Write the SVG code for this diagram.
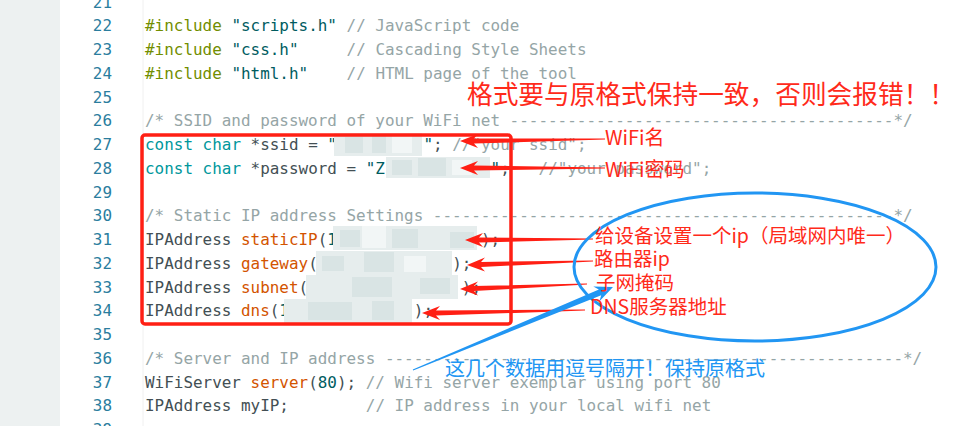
<svg xmlns="http://www.w3.org/2000/svg" width="976" height="426" viewBox="0 0 976 426">
<style>
.code{font-family:"DejaVu Sans Mono","Liberation Mono",monospace;font-size:15.95px;fill:#434f54;white-space:pre}
.ln{font-family:"DejaVu Sans Mono","Liberation Mono",monospace;font-size:15.95px;fill:#2a7d9e;text-anchor:end}
.cm{fill:#95a5a6}
.pp{fill:#728e00}
.st{fill:#005c5f}
.kw{fill:#00979c}
.fn{fill:#d35400}
.rt{font-family:"Noto Sans CJK SC","Noto Sans",sans-serif;fill:#ff2a1a}
.bt{font-family:"Noto Sans CJK SC","Noto Sans",sans-serif;fill:#2196f3;font-size:20px}
.ra{fill:#ff1f14}
.blur1{fill:#d9e4e4}
.blur2{fill:#e6eded}
.blur3{fill:#f2f6f6}
</style>
<rect x="0" y="0" width="976" height="426" fill="#ffffff"/>
<rect x="0" y="0" width="60" height="426" fill="#edf1f1"/>
<line x1="143" y1="0" x2="143" y2="426" stroke="#f0f0f0" stroke-width="1"/>

<g id="line-numbers">
<text class="ln" x="112" y="7.5">21</text>
<text class="ln" x="112" y="31.3">22</text>
<text class="ln" x="112" y="55.05">23</text>
<text class="ln" x="112" y="78.8">24</text>
<text class="ln" x="112" y="102.55">25</text>
<text class="ln" x="112" y="126.3">26</text>
<text class="ln" x="112" y="150.05">27</text>
<text class="ln" x="112" y="173.8">28</text>
<text class="ln" x="112" y="197.55">29</text>
<text class="ln" x="112" y="221.3">30</text>
<text class="ln" x="112" y="245.05">31</text>
<text class="ln" x="112" y="268.8">32</text>
<text class="ln" x="112" y="292.55">33</text>
<text class="ln" x="112" y="316.3">34</text>
<text class="ln" x="112" y="340.05">35</text>
<text class="ln" x="112" y="363.8">36</text>
<text class="ln" x="112" y="387.55">37</text>
<text class="ln" x="112" y="411.3">38</text>
<text class="ln" x="112" y="435.05">39</text>
</g>

<g id="code">
<text class="code" x="145" y="31.3"><tspan class="pp">#include</tspan> <tspan class="st">"scripts.h"</tspan> <tspan class="cm">// JavaScript code</tspan></text>
<text class="code" x="145" y="55.05"><tspan class="pp">#include</tspan> <tspan class="st">"css.h"</tspan><tspan class="cm" x="346.6">// Cascading Style Sheets</tspan></text>
<text class="code" x="145" y="78.8"><tspan class="pp">#include</tspan> <tspan class="st">"html.h"</tspan><tspan class="cm" x="346.6">// HTML page of the tool</tspan></text>
<text class="code cm" x="145" y="126.3">/* SSID and password of your WiFi net ----------------------------------------*/</text>
<text class="code" x="145" y="150.05"><tspan class="kw">const</tspan> <tspan class="kw">char</tspan> *ssid = <tspan class="st">"</tspan></text>
<text class="code" x="423.4" y="150.05"><tspan class="st">"</tspan>; <tspan class="cm">//"your ssid";</tspan></text>
<text class="code" x="145" y="173.8"><tspan class="kw">const</tspan> <tspan class="kw">char</tspan> *password = <tspan class="st">"Z</tspan></text>
<text class="code" x="490.6" y="173.8"><tspan class="st">"</tspan>;<tspan class="cm" x="538.6">//"your password";</tspan></text>
<text class="code cm" x="145" y="221.3">/* Static IP address Settings ------------------------------------------------*/</text>
<text class="code" x="145" y="245.05">IPAddress <tspan class="fn">staticIP</tspan>(<tspan class="st">1</tspan></text>
<text class="code" x="481" y="245.05">);</text>
<text class="code" x="145" y="268.8">IPAddress <tspan class="fn">gateway</tspan>(</text>
<text class="code" x="452.2" y="268.8">);</text>
<text class="code" x="145" y="292.55">IPAddress <tspan class="fn">subnet</tspan>(</text>
<text class="code" x="461.8" y="292.55">);</text>
<text class="code" x="145" y="316.3">IPAddress <tspan class="fn">dns</tspan>(<tspan class="st">1</tspan></text>
<text class="code" x="413.8" y="316.3">);</text>
<text class="code cm" x="145" y="363.8">/* Server and IP address ------------------------------------------------------*/</text>
<text class="code" x="145" y="387.55">WiFiServer <tspan class="fn">server</tspan>(<tspan class="st">80</tspan>); <tspan class="cm">// Wifi server exemplar using port 80</tspan></text>
<text class="code" x="145" y="411.3">IPAddress myIP;<tspan class="cm" x="365.8">// IP address in your local wifi net</tspan></text>
</g>

<g id="redactions">
<rect class="blur2" x="334" y="133" width="88" height="23"/>
<rect class="blur1" x="345" y="137" width="18" height="16"/>
<rect class="blur1" x="372" y="135" width="14" height="18"/>
<rect class="blur3" x="392" y="136" width="20" height="17"/>
<rect class="blur2" x="386" y="157" width="104" height="21"/>
<rect class="blur1" x="392" y="160" width="20" height="15"/>
<rect class="blur1" x="418" y="158" width="28" height="18"/>
<rect class="blur3" x="452" y="160" width="20" height="15"/>
<rect class="blur2" x="333" y="226" width="144" height="24"/>
<rect class="blur1" x="340" y="230" width="20" height="17"/>
<rect class="blur3" x="362" y="226" width="24" height="22"/>
<rect class="blur1" x="392" y="229" width="26" height="19"/>
<rect class="blur1" x="450" y="232" width="24" height="16"/>
<rect class="blur2" x="316" y="251" width="136" height="24"/>
<rect class="blur1" x="322" y="256" width="22" height="15"/>
<rect class="blur1" x="364" y="252" width="30" height="20"/>
<rect class="blur3" x="404" y="256" width="22" height="16"/>
<rect class="blur2" x="306" y="275" width="152" height="24"/>
<rect class="blur1" x="352" y="277" width="40" height="20"/>
<rect class="blur1" x="420" y="278" width="30" height="16"/>
<rect class="blur2" x="284" y="299" width="128" height="24"/>
<rect class="blur1" x="308" y="302" width="44" height="18"/>
<rect class="blur1" x="372" y="301" width="22" height="19"/>
</g>

<g id="red-box">
<rect x="142" y="135" width="369" height="189" rx="3" fill="none" stroke="#ff1f14" stroke-width="3.5"/>
</g>

<g id="connectors">
<polygon class="ra" points="460,141 478,134 474,138.5 605,138.4 605,139.6 474,143.5 478,148"/>
<polygon class="ra" points="460,168 478,161 474,165.5 605,167.4 605,168.6 474,170.5 478,175"/>
<polygon class="ra" points="465,240 483,233 479,237.5 593,238.4 593,239.6 479,242.5 483,247"/>
<polygon class="ra" points="467,265 485,257.5 481,262 593,260.4 593,261.6 481,267 485,271.5"/>
<polygon class="ra" points="460,289 478,281.5 474,286 587,283.4 587,284.6 474,291 478,295.5"/>
<polygon class="ra" points="422,313 440,306 436,310.5 585,309.4 585,310.6 436,315.5 440,320"/>
<polygon fill="#2196f3" points="613,287 593.3,286.5 598.9,289.6 412.8,369.4 413.2,370.6 601.2,295.2 599.5,301.3"/>
</g>

<g id="ellipse">
<ellipse cx="755" cy="267" rx="181" ry="74" fill="none" stroke="#2196f3" stroke-width="3"/>
</g>

<g id="labels">
<text class="rt" x="467" y="104" font-size="25.7">格式要与原格式保持一致，否则会报错！！</text>
<text class="rt" x="605" y="145" font-size="20">WiFi名</text>
<text class="rt" x="605" y="177" font-size="20">WiFi密码</text>
<text class="rt" x="595" y="243" font-size="19.5">给设备设置一个ip（局域网内唯一）</text>
<text class="rt" x="594" y="266" font-size="19.5">路由器ip</text>
<text class="rt" x="596" y="290" font-size="19.5">子网掩码</text>
<text class="rt" x="590" y="314" font-size="19.5">DNS服务器地址</text>
<text class="bt" x="445" y="376">这几个数据用逗号隔开！保持原格式</text>
</g>
</svg>
